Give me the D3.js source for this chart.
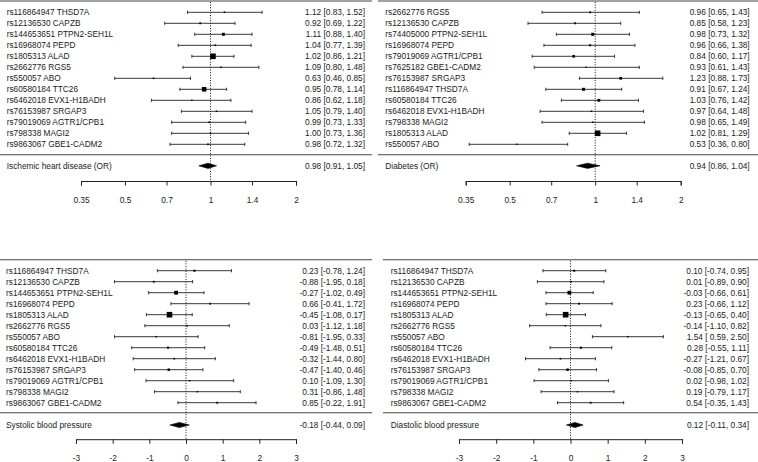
<!DOCTYPE html>
<html><head><meta charset="utf-8">
<script src="https://cdn.jsdelivr.net/npm/d3@7"></script>
<style>
html,body{margin:0;padding:0;background:#fff;}
svg{display:block;font-family:"Liberation Sans",Arial,sans-serif;}
</style></head>
<body><svg id="c" width="758" height="462"></svg>
<script>
// ---------- DATA ----------
const snpsIHD = ["rs116864947 THSD7A","rs12136530 CAPZB","rs144653651 PTPN2-SEH1L","rs16968074 PEPD","rs1805313 ALAD","rs2662776 RGS5","rs550057 ABO","rs60580184 TTC26","rs6462018 EVX1-H1BADH","rs76153987 SRGAP3","rs79019069 AGTR1/CPB1","rs798338 MAGI2","rs9863067 GBE1-CADM2"];
const estIHD = [1.12,0.92,1.11,1.04,1.02,1.09,0.63,0.95,0.86,1.05,0.99,1.00,0.98];
const loIHD  = [0.83,0.69,0.88,0.77,0.86,0.80,0.46,0.78,0.62,0.79,0.73,0.73,0.72];
const hiIHD  = [1.52,1.22,1.40,1.39,1.21,1.48,0.85,1.14,1.18,1.40,1.33,1.36,1.32];
const wIHD   = [42,47,71,44,131,41,41,107,37,40,43,40,42];
const sumIHD = [0.98,0.91,1.05];

const snpsDM = ["rs2662776 RGS5","rs12136530 CAPZB","rs74405000 PTPN2-SEH1L","rs16968074 PEPD","rs79019069 AGTR1/CPB1","rs7625182 GBE1-CADM2","rs76153987 SRGAP3","rs116864947 THSD7A","rs60580184 TTC26","rs6462018 EVX1-H1BADH","rs798338 MAGI2","rs1805313 ALAD","rs550057 ABO"];
const estDM = [0.96,0.85,0.98,0.96,0.84,0.93,1.23,0.91,1.03,0.97,0.98,1.02,0.53];
const loDM  = [0.65,0.58,0.73,0.66,0.60,0.61,0.88,0.67,0.76,0.64,0.65,0.81,0.36];
const hiDM  = [1.43,1.23,1.32,1.38,1.17,1.43,1.73,1.24,1.42,1.48,1.49,1.29,0.80];
const wDM   = [26,27,40,28,36,21,36,40,38,22,22,71,21];
const sumDM = [0.94,0.86,1.04];

const snpsSBP = ["rs116864947 THSD7A","rs12136530 CAPZB","rs144653651 PTPN2-SEH1L","rs16968074 PEPD","rs1805313 ALAD","rs2662776 RGS5","rs550057 ABO","rs60580184 TTC26","rs6462018 EVX1-H1BADH","rs76153987 SRGAP3","rs79019069 AGTR1/CPB1","rs798338 MAGI2","rs9863067 GBE1-CADM2"];
const estSBP = [0.23,-0.88,-0.27,0.66,-0.45,0.03,-0.81,-0.49,-0.32,-0.47,0.10,0.31,0.85];
const loSBP  = [-0.78,-1.95,-1.02,-0.41,-1.08,-1.12,-1.95,-1.48,-1.44,-1.40,-1.09,-0.86,-0.22];
const hiSBP  = [1.24,0.18,0.49,1.72,0.17,1.18,0.33,0.51,0.80,0.46,1.30,1.48,1.91];
const wSBP   = [0.25,0.22,0.44,0.22,0.64,0.19,0.19,0.25,0.20,0.29,0.175,0.18,0.22];
const sumSBP = [-0.18,-0.44,0.09];

const snpsDBP = ["rs116864947 THSD7A","rs12136530 CAPZB","rs144653651 PTPN2-SEH1L","rs16968074 PEPD","rs1805313 ALAD","rs2662776 RGS5","rs550057 ABO","rs60580184 TTC26","rs6462018 EVX1-H1BADH","rs76153987 SRGAP3","rs79019069 AGTR1/CPB1","rs798338 MAGI2","rs9863067 GBE1-CADM2"];
const estDBP = [0.10,0.01,-0.03,0.23,-0.13,-0.14,1.54,0.28,-0.27,-0.08,0.02,0.19,0.54];
const loDBP  = [-0.74,-0.89,-0.66,-0.66,-0.65,-1.10,0.59,-0.55,-1.21,-0.85,-0.98,-0.79,-0.35];
const hiDBP  = [0.95,0.90,0.61,1.12,0.40,0.82,2.50,1.11,0.67,0.70,1.02,1.17,1.43];
const wDBP   = [0.35,0.31,0.62,0.32,0.91,0.27,0.27,0.36,0.28,0.42,0.25,0.26,0.32];
const sumDBP = [0.12,-0.11,0.34];

const summaryLabels = ["Ischemic heart disease (OR)","Diabetes (OR)","Systolic blood pressure","Diastolic blood pressure"];
const ticksOR = [0.35,0.5,0.7,1,1.4,2];
const ticksBP = [-3,-2,-1,0,1,2,3];

// ---------- DRAW ----------
const svg = d3.select("#c");
const FS = 8.3, TXT = "#1a1a1a";

const panels = [
  {snps:snpsIHD, est:estIHD, lo:loIHD, hi:hiIHD, w:wIHD, sum:sumIHD, label:summaryLabels[0], ticks:ticksOR, log:true,
   x0:81, x1:296, labX:6.7, txtX:365, ruleX:[0,372], top:1, row0:12.3, sep:154.7, sumY:165.8, axisY:181, tickLabY:200},
  {snps:snpsDM, est:estDM, lo:loDM, hi:hiDM, w:wDM, sum:sumDM, label:summaryLabels[1], ticks:ticksOR, log:true,
   x0:465.7, x1:680.7, labX:385.3, txtX:749.7, ruleX:[378,758], top:1, row0:12.3, sep:154.7, sumY:165.8, axisY:181, tickLabY:200},
  {snps:snpsSBP, est:estSBP, lo:loSBP, hi:hiSBP, w:wSBP, sum:sumSBP, label:summaryLabels[2], ticks:ticksBP, log:false,
   x0:76, x1:296, labX:6, txtX:365, ruleX:[0,372], top:259.7, row0:270.7, sep:412.7, sumY:425, axisY:439.2, tickLabY:458.3},
  {snps:snpsDBP, est:estDBP, lo:loDBP, hi:hiDBP, w:wDBP, sum:sumDBP, label:summaryLabels[3], ticks:ticksBP, log:false,
   x0:459, x1:682, labX:390.7, txtX:749, ruleX:[383,758], top:259.7, row0:270.7, sep:412.7, sumY:425, axisY:439.2, tickLabY:458.3}
];

panels.forEach(p => {
  const g = svg.append("g");
  const dom = [p.ticks[0], p.ticks[p.ticks.length-1]];
  const x = (p.log ? d3.scaleLog() : d3.scaleLinear()).domain(dom).range([p.x0, p.x1]);
  const n = p.snps.length;
  const y = d3.scalePoint().domain(d3.range(n)).range([p.row0, p.row0 + 11*(n-1)]);
  const size = d3.scaleLinear().domain(d3.extent(p.w)).range([1.4, 5.6]);
  const anyNeg = p.lo.some(v => v < 0);
  const f = v => v.toFixed(2);
  const fmt = (e,l,h) => `${f(e)} [${(anyNeg && l >= 0) ? " " : ""}${f(l)}, ${f(h)}]`;

  // rules
  g.append("line").attr("x1",p.ruleX[0]).attr("x2",p.ruleX[1]).attr("y1",p.top).attr("y2",p.top)
    .attr("stroke","#444").attr("stroke-width",1.1);
  g.append("line").attr("x1",p.ruleX[0]).attr("x2",p.ruleX[1]).attr("y1",p.sep).attr("y2",p.sep)
    .attr("stroke","#444").attr("stroke-width",1.1);

  // reference line
  const ref = p.log ? 1 : 0;
  g.append("line").attr("x1",x(ref)).attr("x2",x(ref)).attr("y1",p.top+1).attr("y2",p.axisY)
    .attr("stroke","#111").attr("stroke-width",1).attr("stroke-dasharray","1,1.6");

  const rows = g.selectAll("g.row").data(d3.range(n)).join("g").attr("class","row");
  rows.append("line").attr("x1",i=>x(p.lo[i])).attr("x2",i=>x(p.hi[i])).attr("y1",i=>y(i)).attr("y2",i=>y(i))
    .attr("stroke","#222").attr("stroke-width",0.9);
  rows.append("line").attr("x1",i=>x(p.lo[i])).attr("x2",i=>x(p.lo[i])).attr("y1",i=>y(i)-1.6).attr("y2",i=>y(i)+1.6)
    .attr("stroke","#222").attr("stroke-width",0.9);
  rows.append("line").attr("x1",i=>x(p.hi[i])).attr("x2",i=>x(p.hi[i])).attr("y1",i=>y(i)-1.6).attr("y2",i=>y(i)+1.6)
    .attr("stroke","#222").attr("stroke-width",0.9);
  rows.append("rect").attr("x",i=>x(p.est[i])-size(p.w[i])/2).attr("y",i=>y(i)-size(p.w[i])/2)
    .attr("width",i=>size(p.w[i])).attr("height",i=>size(p.w[i])).attr("fill","#000");
  rows.append("text").attr("x",p.labX).attr("y",i=>y(i)).attr("dy","0.35em")
    .attr("font-size",FS).attr("fill",TXT).text(i=>p.snps[i]);
  rows.append("text").attr("x",p.txtX).attr("y",i=>y(i)).attr("dy","0.35em").attr("text-anchor","end")
    .attr("font-size",FS).attr("fill",TXT).text(i=>fmt(p.est[i],p.lo[i],p.hi[i]));

  // summary diamond
  const s = p.sum, hh = 2.6;
  g.append("path").attr("d",`M${x(s[1])},${p.sumY}L${x(s[0])},${p.sumY-hh}L${x(s[2])},${p.sumY}L${x(s[0])},${p.sumY+hh}Z`)
    .attr("fill","#000").attr("stroke","#000").attr("stroke-width",0.6);
  g.append("text").attr("x",p.labX).attr("y",p.sumY).attr("dy","0.35em")
    .attr("font-size",FS).attr("fill",TXT).text(p.label);
  g.append("text").attr("x",p.txtX).attr("y",p.sumY).attr("dy","0.35em").attr("text-anchor","end")
    .attr("font-size",FS).attr("fill",TXT).text(fmt(s[0],s[1],s[2]));

  // axis
  const ax = d3.axisBottom(x).tickValues(p.ticks).tickSize(4.5).tickSizeOuter(4.5).tickFormat(d => String(d));
  const ag = g.append("g").attr("transform",`translate(0,${p.axisY})`).call(ax);
  ag.select(".domain").attr("stroke","#222").attr("stroke-width",1);
  ag.selectAll(".tick line").attr("stroke","#222").attr("stroke-width",1);
  ag.selectAll(".tick text").attr("y", p.tickLabY - p.axisY).attr("dy","0.35em")
    .attr("font-size",FS).attr("fill",TXT).attr("font-family","Liberation Sans, Arial, sans-serif");
});
</script></body></html>
